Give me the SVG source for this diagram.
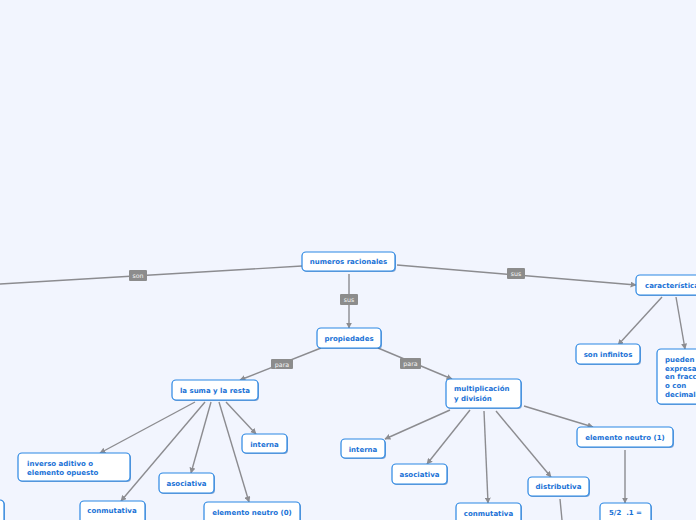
<svg xmlns="http://www.w3.org/2000/svg" width="696" height="520" viewBox="0 0 696 520">
<defs>
<style>
.n rect.b{fill:#ffffff;stroke:#2b87e3;stroke-width:1.2}
.n rect.s{fill:#1d62b0;opacity:0.55}
.n text{font-family:"DejaVu Sans",Verdana,sans-serif;font-weight:bold;font-size:7px;fill:#1a72d6}
.c line{stroke:#8c8c90;stroke-width:1.4;fill:none}
.lb rect{fill:#8c8c8c}
.lb text{font-family:"DejaVu Sans",sans-serif;font-size:6.3px;fill:#f4f4f4;text-anchor:middle}
</style>
<marker id="ah" viewBox="0 0 10 10" refX="9" refY="5" markerWidth="6" markerHeight="6" markerUnits="userSpaceOnUse" orient="auto">
<path d="M0,0 L10,5 L0,10 z" fill="#8c8c90"/>
</marker>
</defs>
<rect x="0" y="0" width="696" height="520" fill="#f2f5fe"/>
<g id="connectors" class="c">
<line x1="302" y1="266" x2="0" y2="284"/>
<line x1="397" y1="265" x2="636" y2="285" marker-end="url(#ah)"/>
<line x1="349" y1="274" x2="349" y2="328" marker-end="url(#ah)"/>
<line x1="321" y1="348" x2="240" y2="380" marker-end="url(#ah)"/>
<line x1="378" y1="348" x2="452" y2="379" marker-end="url(#ah)"/>
<line x1="195" y1="402" x2="100" y2="453" marker-end="url(#ah)"/>
<line x1="205" y1="402" x2="121" y2="501" marker-end="url(#ah)"/>
<line x1="211" y1="402" x2="191" y2="473" marker-end="url(#ah)"/>
<line x1="219" y1="402" x2="249" y2="502" marker-end="url(#ah)"/>
<line x1="226" y1="402" x2="256" y2="434" marker-end="url(#ah)"/>
<line x1="450" y1="410" x2="385" y2="439" marker-end="url(#ah)"/>
<line x1="470" y1="410" x2="427" y2="464" marker-end="url(#ah)"/>
<line x1="484" y1="411" x2="488" y2="503" marker-end="url(#ah)"/>
<line x1="496" y1="411" x2="551" y2="477" marker-end="url(#ah)"/>
<line x1="524" y1="406" x2="593" y2="427" marker-end="url(#ah)"/>
<line x1="625" y1="450" x2="625" y2="503" marker-end="url(#ah)"/>
<line x1="560" y1="499" x2="562" y2="520"/>
<line x1="662" y1="297" x2="618" y2="345" marker-end="url(#ah)"/>
<line x1="676" y1="297" x2="685" y2="349" marker-end="url(#ah)"/>
<g class="lb">
<rect x="129" y="270" width="18" height="11" rx="1"/><text x="138" y="278">son</text>
<rect x="507" y="268" width="18" height="11" rx="1"/><text x="516" y="276">sus</text>
<rect x="340" y="294" width="18" height="11" rx="1"/><text x="349" y="302">sus</text>
<rect x="271" y="359" width="22" height="10" rx="1"/><text x="282" y="366.5">para</text>
<rect x="400" y="358" width="21" height="11" rx="1"/><text x="410.5" y="366">para</text>
</g>
</g>
<g id="n-numeros" class="n"><rect class="s" x="303" y="253" width="93" height="19" rx="4"/><rect class="b" x="302" y="252" width="93" height="19" rx="4"/><text x="348.5" y="264" text-anchor="middle">numeros racionales</text></g>
<g id="n-propiedades" class="n"><rect class="s" x="318" y="329" width="64" height="20" rx="4"/><rect class="b" x="317" y="328" width="64" height="20" rx="4"/><text x="349" y="341" text-anchor="middle">propiedades</text></g>
<g id="n-suma" class="n"><rect class="s" x="173" y="381" width="86" height="20" rx="4"/><rect class="b" x="172" y="380" width="86" height="20" rx="4"/><text x="215" y="393" text-anchor="middle">la suma y la resta</text></g>
<g id="n-mult" class="n"><rect class="s" x="447" y="380" width="75" height="29" rx="4"/><rect class="b" x="446" y="379" width="75" height="29" rx="4"/><text x="454" y="391">multiplicación</text><text x="454" y="400.5">y división</text></g>
<g id="n-caract" class="n"><rect class="s" x="637" y="276" width="70" height="20" rx="4"/><rect class="b" x="636" y="275" width="70" height="20" rx="4"/><text x="645" y="288">características</text></g>
<g id="n-infinitos" class="n"><rect class="s" x="577" y="345" width="64" height="20" rx="4"/><rect class="b" x="576" y="344" width="64" height="20" rx="4"/><text x="608" y="357" text-anchor="middle">son infinitos</text></g>
<g id="n-pueden" class="n"><rect class="s" x="658" y="350" width="50" height="55" rx="4"/><rect class="b" x="657" y="349" width="50" height="55" rx="4"/><text x="665" y="362">pueden</text><text x="665" y="370.7">expresarse</text><text x="665" y="379.4">en fracciones</text><text x="665" y="388.1">o con</text><text x="665" y="396.8">decimales</text></g>
<g id="n-inverso" class="n"><rect class="s" x="19" y="454" width="112" height="28" rx="4"/><rect class="b" x="18" y="453" width="112" height="28" rx="4"/><text x="27" y="466">inverso aditivo o</text><text x="27" y="475">elemento opuesto</text></g>
<g id="n-interna1" class="n"><rect class="s" x="243" y="435" width="45" height="19" rx="4"/><rect class="b" x="242" y="434" width="45" height="19" rx="4"/><text x="264.5" y="446.5" text-anchor="middle">interna</text></g>
<g id="n-asoc1" class="n"><rect class="s" x="160" y="474" width="55" height="20" rx="4"/><rect class="b" x="159" y="473" width="55" height="20" rx="4"/><text x="186.5" y="486" text-anchor="middle">asociativa</text></g>
<g id="n-conm1" class="n"><rect class="s" x="81" y="502" width="65" height="24" rx="4"/><rect class="b" x="80" y="501" width="65" height="24" rx="4"/><text x="112" y="513" text-anchor="middle">conmutativa</text></g>
<g id="n-neutro0" class="n"><rect class="s" x="205" y="503" width="96" height="24" rx="4"/><rect class="b" x="204" y="502" width="96" height="24" rx="4"/><text x="252" y="515" text-anchor="middle">elemento neutro (0)</text></g>
<g id="n-left" class="n"><rect class="s" x="-29" y="501" width="34" height="24" rx="4"/><rect class="b" x="-30" y="500" width="34" height="24" rx="4"/></g>
<g id="n-interna2" class="n"><rect class="s" x="342" y="440" width="44" height="19" rx="4"/><rect class="b" x="341" y="439" width="44" height="19" rx="4"/><text x="363" y="451.5" text-anchor="middle">interna</text></g>
<g id="n-asoc2" class="n"><rect class="s" x="393" y="465" width="55" height="20" rx="4"/><rect class="b" x="392" y="464" width="55" height="20" rx="4"/><text x="419.5" y="477" text-anchor="middle">asociativa</text></g>
<g id="n-conm2" class="n"><rect class="s" x="457" y="504" width="65" height="24" rx="4"/><rect class="b" x="456" y="503" width="65" height="24" rx="4"/><text x="488.5" y="516" text-anchor="middle">conmutativa</text></g>
<g id="n-distrib" class="n"><rect class="s" x="529" y="478" width="61" height="19" rx="4"/><rect class="b" x="528" y="477" width="61" height="19" rx="4"/><text x="558.5" y="489" text-anchor="middle">distributiva</text></g>
<g id="n-neutro1" class="n"><rect class="s" x="578" y="428" width="96" height="20" rx="4"/><rect class="b" x="577" y="427" width="96" height="20" rx="4"/><text x="625" y="440" text-anchor="middle">elemento neutro (1)</text></g>
<g id="n-52" class="n"><rect class="s" x="601" y="504" width="51" height="24" rx="4"/><rect class="b" x="600" y="503" width="51" height="24" rx="4"/><text x="625.5" y="515" text-anchor="middle" xml:space="preserve">5/2  .1 =</text></g>
</svg>
